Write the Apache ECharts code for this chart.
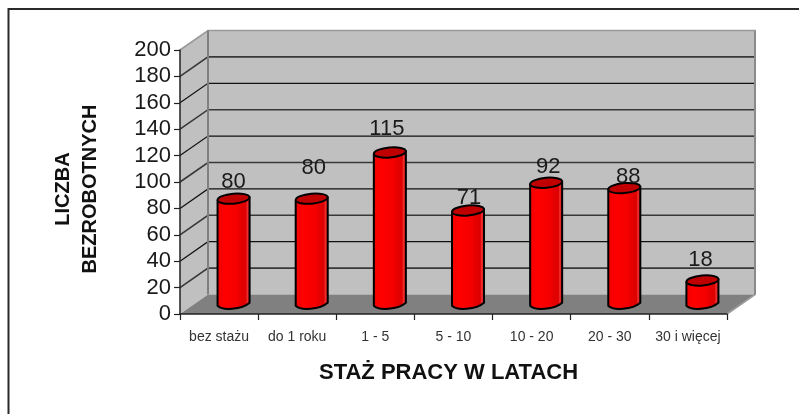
<!DOCTYPE html>
<html>
<head>
<meta charset="utf-8">
<style>html,body{margin:0;padding:0;background:#fff}#c{width:799px;height:414px}</style>
<script src="https://cdn.jsdelivr.net/npm/echarts@6/dist/echarts.min.js"></script>
</head>
<body>
<div id="c"></div>
<script>
const categories = ['bez stażu', 'do 1 roku', '1 - 5', '5 - 10', '10 - 20', '20 - 30', '30 i więcej'];
const values = [80, 80, 115, 71, 92, 88, 18];
const yTicks = [0, 20, 40, 60, 80, 100, 120, 140, 160, 180, 200];
const xTitle = 'STAŻ PRACY W LATACH';
const yTitle = 'LICZBA\nBEZROBOTNYCH';

// hand-placed label nudges seen in the reference
const labelNudgeX = [0, 2, -3, 1, 2, 4, -2];
const labelNudgeY = [-17, -31, -24, -13, -16, -11, -21];
const DX = 28, DY = -19.5;

const chart = echarts.init(document.getElementById('c'), null, {renderer: 'canvas'});

function renderWalls(params, api) {
  const cs = params.coordSys;
  const x0 = cs.x, x1 = cs.x + cs.width;
  const y0 = api.coord([0, 0])[1], yT = api.coord([0, 200])[1];
  const kids = [
    {type: 'polygon', shape: {points: [[x0, yT], [x0 + DX, yT + DY], [x0 + DX, y0 + DY], [x0, y0]]},
      style: {fill: '#c0c0c0', stroke: null}},
    {type: 'rect', shape: {x: x0 + DX, y: yT + DY, width: x1 - x0, height: y0 - yT},
      style: {fill: '#c0c0c0', stroke: null}},
    {type: 'polygon', shape: {points: [[x0, y0], [x0 + DX, y0 + DY], [x1 + DX, y0 + DY], [x1, y0]]},
      style: {fill: '#808080', stroke: null}}
  ];
  yTicks.forEach(function (t, i) {
    if (t === 0 || t === 200) return;
    const y = api.coord([0, t])[1];
    kids.push({type: 'polyline', shape: {points: [[x0, y], [x0 + DX, y + DY], [x1 + DX, y + DY]]},
      style: {fill: null, stroke: i % 2 ? '#383838' : '#111', lineWidth: i % 2 ? 1.6 : 1.2}});
  });
  kids.push(
    {type: 'polyline', shape: {points: [[x0, yT], [x0 + DX, yT + DY], [x1 + DX, yT + DY], [x1 + DX, y0 + DY], [x1, y0]]},
      style: {fill: null, stroke: '#9a9a9a', lineWidth: 1.6}},
    {type: 'line', shape: {x1: x0 + DX, y1: yT + DY, x2: x0 + DX, y2: y0 + DY},
      style: {stroke: '#808080', lineWidth: 2}},
    {type: 'line', shape: {x1: x1 + DX, y1: yT + DY, x2: x1 + DX, y2: y0 + DY},
      style: {stroke: '#8a8a8a', lineWidth: 2}}
  );
  return {type: 'group', children: kids};
}

function renderBar(params, api) {
  const i = api.value(0), v = api.value(1);
  const bw = api.size([1, 0])[0];
  const rx = bw * 0.205, ry = 5, tilt = 1.5;
  const base = api.coord([i, 0]);
  const top = api.coord([i, v]);
  const cx = base[0] + DX / 2 + 0.5;
  const by = base[1] + DY / 2;
  const ty = top[1] + DY / 2;
  const l = cx - rx, r = cx + rx;
  const body = 'M' + l + ' ' + (ty + tilt) + 'L' + l + ' ' + (by + tilt) +
    'C' + (l + rx * 0.3) + ' ' + (by + ry + 1.5) + ' ' + (r - rx * 0.5) + ' ' + (by + ry + 0.5) + ' ' + r + ' ' + (by - tilt) +
    'L' + r + ' ' + (ty - tilt) + 'Z';
  return {type: 'group', children: [
    {type: 'path', shape: {pathData: body},
      style: {
        fill: {type: 'linear', x: 0, y: 0, x2: 1, y2: 0, colorStops: [
          {offset: 0, color: '#f00000'}, {offset: 0.25, color: '#ff0000'}, {offset: 0.62, color: '#f40000'},
          {offset: 0.68, color: '#e80000'}, {offset: 0.86, color: '#dc0000'}, {offset: 0.9, color: '#f03030'}, {offset: 1, color: '#d00000'}
        ]},
        stroke: '#000', lineWidth: 2, lineJoin: 'round'
      }},
    {type: 'ellipse', shape: {cx: cx, cy: ty, rx: rx, ry: ry},
      rotation: 0.09, originX: cx, originY: ty,
      style: {fill: '#c00000', stroke: '#000', lineWidth: 2}},
    {type: 'text', x: cx + labelNudgeX[i], y: ty + labelNudgeY[i],
      style: {text: String(v), fill: '#1a1a1a', font: '22px "Liberation Sans", Arial, sans-serif',
        align: 'center', verticalAlign: 'middle'}}
  ]};
}

chart.setOption({
  animation: false,
  backgroundColor: '#fff',
  textStyle: {fontFamily: '"Liberation Sans", Arial, sans-serif'},
  graphic: [
    {type: 'polyline', silent: true, shape: {points: [[8.5, 414], [8.5, 9], [799, 9]]},
      style: {fill: null, stroke: '#2a2a2a', lineWidth: 2}}
  ],
  grid: {left: 180, right: 72, top: 50, bottom: 100, containLabel: false},
  xAxis: {
    type: 'category', data: categories, boundaryGap: true, z: 5,
    name: xTitle, nameLocation: 'middle', nameGap: 48,
    nameTextStyle: {fontSize: 22, fontWeight: 'bold', color: '#111', padding: [0, 10, 0, 0]},
    axisLine: {lineStyle: {color: '#222', width: 1.5}},
    axisTick: {show: true, length: 6, alignWithLabel: false, lineStyle: {color: '#222', width: 1.2}},
    axisLabel: {fontSize: 14, color: '#333', margin: 16, interval: 0}
  },
  yAxis: {
    type: 'value', min: 0, max: 200, interval: 20, z: 5,
    name: yTitle, nameLocation: 'middle', nameGap: 76, nameRotate: 90,
    nameTextStyle: {fontSize: 20, fontWeight: 'bold', color: '#111', lineHeight: 27, padding: [0, 14, 0, 0]},
    splitLine: {show: false},
    axisLine: {show: true, lineStyle: {color: '#222', width: 1.5}},
    axisTick: {show: true, length: 6, lineStyle: {color: '#222', width: 1.2}},
    axisLabel: {fontSize: 22, color: '#1a1a1a', margin: 9,
      formatter: function (v) { return String(v); }}
  },
  series: [
    {type: 'custom', z: 1, renderItem: renderWalls, data: [[0, 0]], silent: true,
      encode: {x: 0, y: 1}},
    {type: 'custom', z: 3, renderItem: renderBar, clip: false, silent: true,
      data: values.map(function (v, i) { return [i, v]; }), encode: {x: 0, y: 1}}
  ]
});
</script>
</body>
</html>
